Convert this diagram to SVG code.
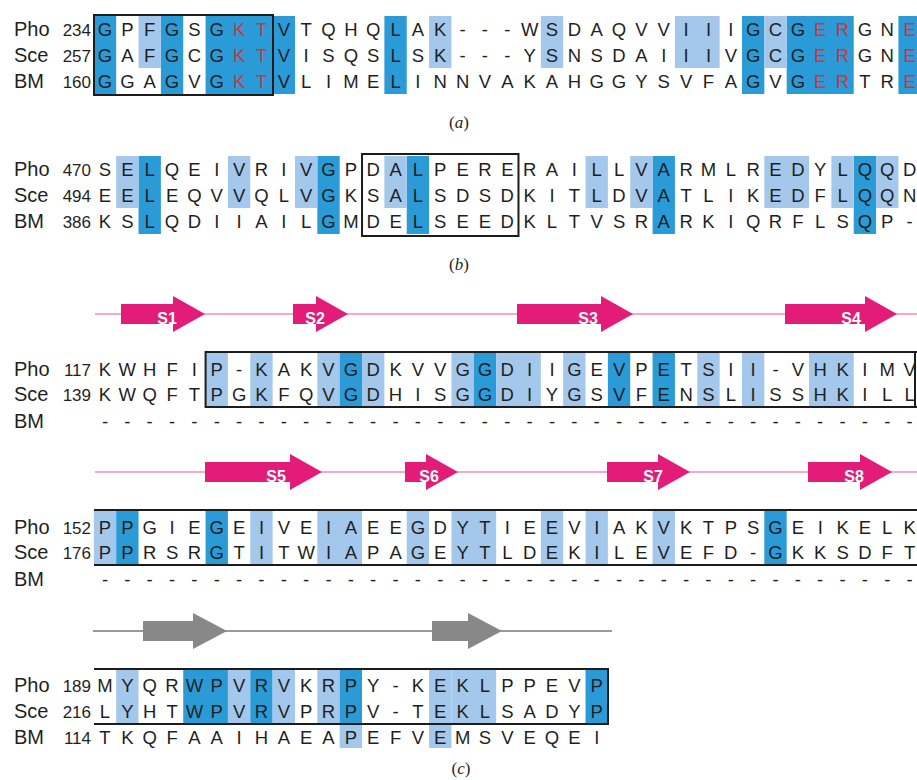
<svg xmlns="http://www.w3.org/2000/svg" width="917" height="780" viewBox="0 0 917 780">
  <style>
    .seq { font-family: "Liberation Sans", Arial, sans-serif; font-size: 18.5px; fill: #1f1f1f; text-anchor: middle; }
    .red { fill: #c8393c; }
    .name { font-family: "Liberation Sans", Arial, sans-serif; font-size: 20px; fill: #1f1f1f; }
    .num { font-family: "Liberation Sans", Arial, sans-serif; font-size: 17px; fill: #1f1f1f; text-anchor: end; }
    .dk { fill: #2a9bd7; }
    .lt { fill: #a3c8ec; }
    .box { fill: none; stroke: #1c1c1c; stroke-width: 2; }
    .edge { stroke: #1c1c1c; stroke-width: 2; fill: none; }
    .strand { fill: #e31c79; }
    .pline { stroke: #f28dbb; stroke-width: 1.5; }
    .gstrand { fill: #888888; }
    .gline { stroke: #9a9a9a; stroke-width: 2; }
    .slab { font-family: "Liberation Sans", Arial, sans-serif; font-size: 16px; font-weight: bold; fill: #ffffff; text-anchor: middle; }
    .cap { font-family: "Liberation Serif", "Times New Roman", serif; font-size: 17px; fill: #1f1f1f; text-anchor: middle; }
  </style>

  <!-- ===================== panel (a) ===================== -->
  <g id="panel-a">
    <g id="a-shading">
      <!-- conserved columns, all three rows -->
      <rect class="dk" x="93.83" y="16" width="22.35" height="78"/>
      <rect class="dk" x="160.88" y="16" width="22.35" height="78"/>
      <rect class="dk" x="205.58" y="16" width="89.4" height="78"/>
      <rect class="dk" x="384.38" y="16" width="22.35" height="78"/>
      <rect class="dk" x="741.98" y="16" width="22.35" height="78"/>
      <rect class="dk" x="786.68" y="16" width="67.05" height="78"/>
      <rect class="dk" x="898.43" y="16" width="22.35" height="78"/>
      <!-- similar columns, Pho/Sce -->
      <rect class="lt" x="138.53" y="16" width="22.35" height="52"/>
      <rect class="lt" x="429.08" y="16" width="22.35" height="52"/>
      <rect class="lt" x="540.83" y="16" width="22.35" height="52"/>
      <rect class="lt" x="674.93" y="16" width="44.7" height="52"/>
      <rect class="lt" x="764.33" y="16" width="22.35" height="52"/>
    </g>
    <rect class="box" x="94" y="15" width="179" height="80"/>
    <g id="a-labels">
      <text class="name" x="14" y="36">Pho</text><text class="num" x="91" y="36">234</text>
      <text class="name" x="14" y="62">Sce</text><text class="num" x="91" y="62">257</text>
      <text class="name" x="14" y="88">BM</text><text class="num" x="91" y="88">160</text>
    </g>
    <g id="a-seqs">
      <text class="seq" y="36" x="105 127.35 149.7 172.05 194.4 216.75 239.1 261.45 283.8 306.15 328.5 350.85 373.2 395.55 417.9 440.25 462.6 484.95 507.3 529.65 552 574.35 596.7 619.05 641.4 663.75 686.1 708.45 730.8 753.15 775.5 797.85 820.2 842.55 864.9 887.25 909.6">GPFGSG<tspan class="red">KT</tspan>VTQHQLAK---WSDAQVVIIIGCG<tspan class="red">ER</tspan>GN<tspan class="red">E</tspan></text>
      <text class="seq" y="62" x="105 127.35 149.7 172.05 194.4 216.75 239.1 261.45 283.8 306.15 328.5 350.85 373.2 395.55 417.9 440.25 462.6 484.95 507.3 529.65 552 574.35 596.7 619.05 641.4 663.75 686.1 708.45 730.8 753.15 775.5 797.85 820.2 842.55 864.9 887.25 909.6">GAFGCG<tspan class="red">KT</tspan>VISQSLSK---YSNSDAIIIVGCG<tspan class="red">ER</tspan>GN<tspan class="red">E</tspan></text>
      <text class="seq" y="88" x="105 127.35 149.7 172.05 194.4 216.75 239.1 261.45 283.8 306.15 328.5 350.85 373.2 395.55 417.9 440.25 462.6 484.95 507.3 529.65 552 574.35 596.7 619.05 641.4 663.75 686.1 708.45 730.8 753.15 775.5 797.85 820.2 842.55 864.9 887.25 909.6">GGAGVG<tspan class="red">KT</tspan>VLIMELINNVAKAHGGYSVFAGVG<tspan class="red">ER</tspan>TR<tspan class="red">E</tspan></text>
    </g>
    <text class="cap" x="459" y="128">(<tspan font-style="italic">a</tspan>)</text>
  </g>

  <!-- ===================== panel (b) ===================== -->
  <g id="panel-b">
    <g id="b-shading">
      <rect class="dk" x="138.53" y="156" width="22.35" height="78"/>
      <rect class="dk" x="317.33" y="156" width="22.35" height="78"/>
      <rect class="dk" x="406.73" y="156" width="22.35" height="78"/>
      <rect class="dk" x="652.58" y="156" width="22.35" height="78"/>
      <rect class="dk" x="853.73" y="156" width="22.35" height="78"/>
      <rect class="lt" x="116.18" y="156" width="22.35" height="52"/>
      <rect class="lt" x="227.93" y="156" width="22.35" height="52"/>
      <rect class="lt" x="294.98" y="156" width="22.35" height="52"/>
      <rect class="lt" x="384.38" y="156" width="22.35" height="52"/>
      <rect class="lt" x="585.53" y="156" width="22.35" height="52"/>
      <rect class="lt" x="630.23" y="156" width="22.35" height="52"/>
      <rect class="lt" x="764.33" y="156" width="44.7" height="52"/>
      <rect class="lt" x="831.38" y="156" width="22.35" height="52"/>
      <rect class="lt" x="876.08" y="156" width="22.35" height="52"/>
    </g>
    <rect class="box" x="362.03" y="154" width="156.45" height="82"/>
    <g id="b-labels">
      <text class="name" x="14" y="176">Pho</text><text class="num" x="91" y="176">470</text>
      <text class="name" x="14" y="202">Sce</text><text class="num" x="91" y="202">494</text>
      <text class="name" x="14" y="228">BM</text><text class="num" x="91" y="228">386</text>
    </g>
    <g id="b-seqs">
      <text class="seq" y="176" x="105 127.35 149.7 172.05 194.4 216.75 239.1 261.45 283.8 306.15 328.5 350.85 373.2 395.55 417.9 440.25 462.6 484.95 507.3 529.65 552 574.35 596.7 619.05 641.4 663.75 686.1 708.45 730.8 753.15 775.5 797.85 820.2 842.55 864.9 887.25 909.6">SELQEIVRIVGPDALPERERAILLVARMLREDYLQQD</text>
      <text class="seq" y="202" x="105 127.35 149.7 172.05 194.4 216.75 239.1 261.45 283.8 306.15 328.5 350.85 373.2 395.55 417.9 440.25 462.6 484.95 507.3 529.65 552 574.35 596.7 619.05 641.4 663.75 686.1 708.45 730.8 753.15 775.5 797.85 820.2 842.55 864.9 887.25 909.6">EELEQVVQLVGKSALSDSDKITLDVATLIKEDFLQQN</text>
      <text class="seq" y="228" x="105 127.35 149.7 172.05 194.4 216.75 239.1 261.45 283.8 306.15 328.5 350.85 373.2 395.55 417.9 440.25 462.6 484.95 507.3 529.65 552 574.35 596.7 619.05 641.4 663.75 686.1 708.45 730.8 753.15 775.5 797.85 820.2 842.55 864.9 887.25 909.6">KSLQDIIAILGMDELSEEDKLTVSRARKIQRFLSQP-</text>
    </g>
    <text class="cap" x="459" y="270">(<tspan font-style="italic">b</tspan>)</text>
  </g>

  <!-- ===================== panel (c) ===================== -->
  <g id="panel-c">
    <!-- secondary structure, line 1 -->
    <g id="c1-strands">
      <line class="pline" x1="95" y1="314" x2="917" y2="314"/>
      <polygon class="strand" points="121,304 173,304 173,296 205,314 173,332 173,324 121,324"/>
      <polygon class="strand" points="293,304 316,304 316,296 348,314 316,332 316,324 293,324"/>
      <polygon class="strand" points="517,304 601,304 601,296 633,314 601,332 601,324 517,324"/>
      <polygon class="strand" points="785,304 865,304 865,296 897,314 865,332 865,324 785,324"/>
      <text class="slab" x="167" y="324">S1</text>
      <text class="slab" x="315" y="324">S2</text>
      <text class="slab" x="588" y="324">S3</text>
      <text class="slab" x="851" y="324">S4</text>
    </g>
    <g id="c1-shading">
      <rect class="lt" x="205.58" y="353" width="22.35" height="54"/>
      <rect class="lt" x="250.28" y="353" width="22.35" height="54"/>
      <rect class="lt" x="317.33" y="353" width="22.35" height="54"/>
      <rect class="dk" x="339.68" y="353" width="22.35" height="54"/>
      <rect class="lt" x="362.03" y="353" width="22.35" height="54"/>
      <rect class="lt" x="451.43" y="353" width="22.35" height="54"/>
      <rect class="dk" x="473.78" y="353" width="22.35" height="54"/>
      <rect class="lt" x="496.13" y="353" width="44.7" height="54"/>
      <rect class="lt" x="563.18" y="353" width="22.35" height="54"/>
      <rect class="dk" x="607.88" y="353" width="22.35" height="54"/>
      <rect class="dk" x="652.58" y="353" width="22.35" height="54"/>
      <rect class="lt" x="697.28" y="353" width="22.35" height="54"/>
      <rect class="lt" x="741.98" y="353" width="22.35" height="54"/>
      <rect class="lt" x="809.03" y="353" width="44.7" height="54"/>
    </g>
    <path class="edge" d="M917,352 H205.58 V407 H917 M915,352 V407"/>
    <g id="c1-labels">
      <text class="name" x="14" y="376">Pho</text><text class="num" x="91" y="376">117</text>
      <text class="name" x="14" y="401">Sce</text><text class="num" x="91" y="401">139</text>
      <text class="name" x="14" y="428">BM</text>
    </g>
    <g id="c1-seqs">
      <text class="seq" y="376" x="105 127.35 149.7 172.05 194.4 216.75 239.1 261.45 283.8 306.15 328.5 350.85 373.2 395.55 417.9 440.25 462.6 484.95 507.3 529.65 552 574.35 596.7 619.05 641.4 663.75 686.1 708.45 730.8 753.15 775.5 797.85 820.2 842.55 864.9 887.25 909.6">KWHFIP-KAKVGDKVVGGDIIGEVPETSII-VHKIMV</text>
      <text class="seq" y="401" x="105 127.35 149.7 172.05 194.4 216.75 239.1 261.45 283.8 306.15 328.5 350.85 373.2 395.55 417.9 440.25 462.6 484.95 507.3 529.65 552 574.35 596.7 619.05 641.4 663.75 686.1 708.45 730.8 753.15 775.5 797.85 820.2 842.55 864.9 887.25 909.6">KWQFTPGKFQVGDHISGGDIYGSVFENSLISSHKILL</text>
      <text class="seq" y="428" x="105 127.35 149.7 172.05 194.4 216.75 239.1 261.45 283.8 306.15 328.5 350.85 373.2 395.55 417.9 440.25 462.6 484.95 507.3 529.65 552 574.35 596.7 619.05 641.4 663.75 686.1 708.45 730.8 753.15 775.5 797.85 820.2 842.55 864.9 887.25 909.6">-------------------------------------</text>
    </g>

    <!-- secondary structure, line 2 -->
    <g id="c2-strands">
      <line class="pline" x1="95" y1="472" x2="917" y2="472"/>
      <polygon class="strand" points="205,462 290,462 290,454 322,472 290,490 290,482 205,482"/>
      <polygon class="strand" points="405,462 426,462 426,454 458,472 426,490 426,482 405,482"/>
      <polygon class="strand" points="607,462 658,462 658,454 690,472 658,490 658,482 607,482"/>
      <polygon class="strand" points="808,462 860,462 860,454 892,472 860,490 860,482 808,482"/>
      <text class="slab" x="276" y="482">S5</text>
      <text class="slab" x="429" y="482">S6</text>
      <text class="slab" x="653" y="482">S7</text>
      <text class="slab" x="854" y="482">S8</text>
    </g>
    <g id="c2-shading">
      <rect class="lt" x="93.83" y="511" width="22.35" height="54"/>
      <rect class="dk" x="116.18" y="511" width="22.35" height="54"/>
      <rect class="dk" x="205.58" y="511" width="22.35" height="54"/>
      <rect class="lt" x="250.28" y="511" width="22.35" height="54"/>
      <rect class="lt" x="317.33" y="511" width="44.7" height="54"/>
      <rect class="lt" x="406.73" y="511" width="22.35" height="54"/>
      <rect class="lt" x="451.43" y="511" width="44.7" height="54"/>
      <rect class="lt" x="540.83" y="511" width="22.35" height="54"/>
      <rect class="lt" x="585.53" y="511" width="22.35" height="54"/>
      <rect class="lt" x="652.58" y="511" width="22.35" height="54"/>
      <rect class="dk" x="764.33" y="511" width="22.35" height="54"/>
    </g>
    <path class="edge" d="M94,510 H917 M94,565 H917"/>
    <g id="c2-labels">
      <text class="name" x="14" y="534">Pho</text><text class="num" x="91" y="534">152</text>
      <text class="name" x="14" y="559">Sce</text><text class="num" x="91" y="559">176</text>
      <text class="name" x="14" y="586">BM</text>
    </g>
    <g id="c2-seqs">
      <text class="seq" y="534" x="105 127.35 149.7 172.05 194.4 216.75 239.1 261.45 283.8 306.15 328.5 350.85 373.2 395.55 417.9 440.25 462.6 484.95 507.3 529.65 552 574.35 596.7 619.05 641.4 663.75 686.1 708.45 730.8 753.15 775.5 797.85 820.2 842.55 864.9 887.25 909.6">PPGIEGEIVEIAEEGDYTIEEVIAKVKTPSGEIKELK</text>
      <text class="seq" y="559" x="105 127.35 149.7 172.05 194.4 216.75 239.1 261.45 283.8 306.15 328.5 350.85 373.2 395.55 417.9 440.25 462.6 484.95 507.3 529.65 552 574.35 596.7 619.05 641.4 663.75 686.1 708.45 730.8 753.15 775.5 797.85 820.2 842.55 864.9 887.25 909.6">PPRSRGTITWIAPAGEYTLDEKILEVEFD-GKKSDFT</text>
      <text class="seq" y="586" x="105 127.35 149.7 172.05 194.4 216.75 239.1 261.45 283.8 306.15 328.5 350.85 373.2 395.55 417.9 440.25 462.6 484.95 507.3 529.65 552 574.35 596.7 619.05 641.4 663.75 686.1 708.45 730.8 753.15 775.5 797.85 820.2 842.55 864.9 887.25 909.6">-------------------------------------</text>
    </g>

    <!-- secondary structure, line 3 -->
    <g id="c3-strands">
      <line class="gline" x1="93" y1="631" x2="612" y2="631"/>
      <polygon class="gstrand" points="143,621 193,621 193,613 227,631 193,649 193,641 143,641"/>
      <polygon class="gstrand" points="432,621 468,621 468,613 502,631 468,649 468,641 432,641"/>
    </g>
    <g id="c3-shading">
      <rect class="lt" x="116.18" y="670" width="22.35" height="54"/>
      <rect class="dk" x="183.23" y="670" width="44.7" height="54"/>
      <rect class="lt" x="227.93" y="670" width="22.35" height="54"/>
      <rect class="dk" x="250.28" y="670" width="22.35" height="54"/>
      <rect class="lt" x="272.63" y="670" width="22.35" height="54"/>
      <rect class="lt" x="317.33" y="670" width="22.35" height="54"/>
      <rect class="dk" x="339.68" y="670" width="22.35" height="54"/>
      <rect class="lt" x="339.68" y="724" width="22.35" height="24"/>
      <rect class="lt" x="429.08" y="670" width="22.35" height="78"/>
      <rect class="lt" x="451.43" y="670" width="44.7" height="54"/>
      <rect class="dk" x="585.53" y="670" width="22.35" height="54"/>
    </g>
    <path class="edge" d="M94,669 H608 V724 H94"/>
    <g id="c3-labels">
      <text class="name" x="14" y="692">Pho</text><text class="num" x="91" y="692">189</text>
      <text class="name" x="14" y="718">Sce</text><text class="num" x="91" y="718">216</text>
      <text class="name" x="14" y="744">BM</text><text class="num" x="91" y="744">114</text>
    </g>
    <g id="c3-seqs">
      <text class="seq" y="692" x="105 127.35 149.7 172.05 194.4 216.75 239.1 261.45 283.8 306.15 328.5 350.85 373.2 395.55 417.9 440.25 462.6 484.95 507.3 529.65 552 574.35 596.7">MYQRWPVRVKRPY-KEKLPPEVP</text>
      <text class="seq" y="718" x="105 127.35 149.7 172.05 194.4 216.75 239.1 261.45 283.8 306.15 328.5 350.85 373.2 395.55 417.9 440.25 462.6 484.95 507.3 529.65 552 574.35 596.7">LYHTWPVRVPRPV-TEKLSADYP</text>
      <text class="seq" y="744" x="105 127.35 149.7 172.05 194.4 216.75 239.1 261.45 283.8 306.15 328.5 350.85 373.2 395.55 417.9 440.25 462.6 484.95 507.3 529.65 552 574.35 596.7">TKQFAAIHAEAPEFVEMSVEQEI</text>
    </g>
    <text class="cap" x="461" y="774">(<tspan font-style="italic">c</tspan>)</text>
  </g>
</svg>
